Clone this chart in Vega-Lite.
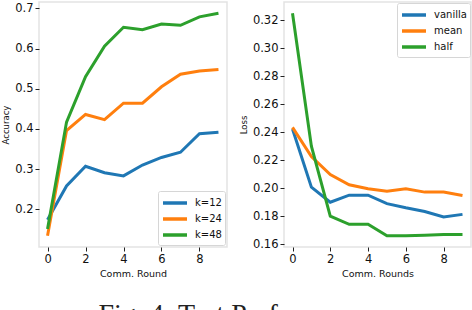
{
  "$schema": "https://vega.github.io/schema/vega-lite/v6.json",
  "autosize": {"type": "pad"},
  "padding": {"left": 0, "top": 1, "right": 0, "bottom": 0},
  "bounds": "flush",
  "spacing": 57,
  "background": "white",
  "title": {"text": "Fig. 4: Test Performance", "orient": "bottom", "anchor": "middle", "font": "Liberation Serif", "fontSize": 28, "fontWeight": "normal", "color": "#222222", "offset": 22, "baseline": "top"},
  "config": {
    "view": {"stroke": "#e3e3e3", "strokeWidth": 1.5},
    "axis": {"grid": false, "domain": false, "tickColor": "#222222", "tickSize": 4, "tickWidth": 1, "labelFont": "DejaVu Sans", "labelFontSize": 11.5, "labelColor": "#111111", "labelPadding": 2, "titleFont": "DejaVu Sans", "titleFontWeight": "normal", "titleColor": "#111111"},
    "legend": {"symbolType": "M-1,0H2.43", "symbolStrokeWidth": 3.5, "symbolSize": 196, "labelFont": "DejaVu Sans", "labelFontSize": 10, "labelColor": "#111111", "labelOffset": 16, "fillColor": "white", "strokeColor": "#d6d6d6", "cornerRadius": 2, "padding": 3, "rowPadding": 0, "title": null}
  },
  "data": {"values": [
    {"panel": "acc", "series": "k=12", "round": 0, "value": 0.174},
    {"panel": "acc", "series": "k=12", "round": 1, "value": 0.258},
    {"panel": "acc", "series": "k=12", "round": 2, "value": 0.307},
    {"panel": "acc", "series": "k=12", "round": 3, "value": 0.291},
    {"panel": "acc", "series": "k=12", "round": 4, "value": 0.283},
    {"panel": "acc", "series": "k=12", "round": 5, "value": 0.31},
    {"panel": "acc", "series": "k=12", "round": 6, "value": 0.329},
    {"panel": "acc", "series": "k=12", "round": 7, "value": 0.342},
    {"panel": "acc", "series": "k=12", "round": 8, "value": 0.388},
    {"panel": "acc", "series": "k=12", "round": 9, "value": 0.392},
    {"panel": "acc", "series": "k=24", "round": 0, "value": 0.134},
    {"panel": "acc", "series": "k=24", "round": 1, "value": 0.396},
    {"panel": "acc", "series": "k=24", "round": 2, "value": 0.436},
    {"panel": "acc", "series": "k=24", "round": 3, "value": 0.423},
    {"panel": "acc", "series": "k=24", "round": 4, "value": 0.464},
    {"panel": "acc", "series": "k=24", "round": 5, "value": 0.464},
    {"panel": "acc", "series": "k=24", "round": 6, "value": 0.505},
    {"panel": "acc", "series": "k=24", "round": 7, "value": 0.536},
    {"panel": "acc", "series": "k=24", "round": 8, "value": 0.544},
    {"panel": "acc", "series": "k=24", "round": 9, "value": 0.548},
    {"panel": "acc", "series": "k=48", "round": 0, "value": 0.151},
    {"panel": "acc", "series": "k=48", "round": 1, "value": 0.417},
    {"panel": "acc", "series": "k=48", "round": 2, "value": 0.53},
    {"panel": "acc", "series": "k=48", "round": 3, "value": 0.606},
    {"panel": "acc", "series": "k=48", "round": 4, "value": 0.653},
    {"panel": "acc", "series": "k=48", "round": 5, "value": 0.647},
    {"panel": "acc", "series": "k=48", "round": 6, "value": 0.661},
    {"panel": "acc", "series": "k=48", "round": 7, "value": 0.658},
    {"panel": "acc", "series": "k=48", "round": 8, "value": 0.679},
    {"panel": "acc", "series": "k=48", "round": 9, "value": 0.688},
    {"panel": "loss", "series": "vanilla", "round": 0, "value": 0.2423},
    {"panel": "loss", "series": "vanilla", "round": 1, "value": 0.2007},
    {"panel": "loss", "series": "vanilla", "round": 2, "value": 0.19},
    {"panel": "loss", "series": "vanilla", "round": 3, "value": 0.195},
    {"panel": "loss", "series": "vanilla", "round": 4, "value": 0.195},
    {"panel": "loss", "series": "vanilla", "round": 5, "value": 0.189},
    {"panel": "loss", "series": "vanilla", "round": 6, "value": 0.186},
    {"panel": "loss", "series": "vanilla", "round": 7, "value": 0.1834},
    {"panel": "loss", "series": "vanilla", "round": 8, "value": 0.1794},
    {"panel": "loss", "series": "vanilla", "round": 9, "value": 0.1813},
    {"panel": "loss", "series": "mean", "round": 0, "value": 0.2434},
    {"panel": "loss", "series": "mean", "round": 1, "value": 0.2226},
    {"panel": "loss", "series": "mean", "round": 2, "value": 0.2098},
    {"panel": "loss", "series": "mean", "round": 3, "value": 0.2024},
    {"panel": "loss", "series": "mean", "round": 4, "value": 0.1996},
    {"panel": "loss", "series": "mean", "round": 5, "value": 0.1979},
    {"panel": "loss", "series": "mean", "round": 6, "value": 0.1996},
    {"panel": "loss", "series": "mean", "round": 7, "value": 0.1972},
    {"panel": "loss", "series": "mean", "round": 8, "value": 0.1972},
    {"panel": "loss", "series": "mean", "round": 9, "value": 0.1948},
    {"panel": "loss", "series": "half", "round": 0, "value": 0.325},
    {"panel": "loss", "series": "half", "round": 1, "value": 0.23},
    {"panel": "loss", "series": "half", "round": 2, "value": 0.18},
    {"panel": "loss", "series": "half", "round": 3, "value": 0.1742},
    {"panel": "loss", "series": "half", "round": 4, "value": 0.1742},
    {"panel": "loss", "series": "half", "round": 5, "value": 0.166},
    {"panel": "loss", "series": "half", "round": 6, "value": 0.166},
    {"panel": "loss", "series": "half", "round": 7, "value": 0.1664},
    {"panel": "loss", "series": "half", "round": 8, "value": 0.167},
    {"panel": "loss", "series": "half", "round": 9, "value": 0.167}
  ]},
  "resolve": {"scale": {"color": "independent"}, "legend": {"color": "independent"}},
  "hconcat": [
    {
      "width": 188,
      "height": 245,
      "transform": [{"filter": "datum.panel === 'acc'"}],
      "mark": {"type": "line", "strokeWidth": 3},
      "encoding": {
        "x": {"field": "round", "type": "quantitative", "scale": {"domain": [-0.45, 9.45], "nice": false, "zero": false}, "axis": {"values": [0, 2, 4, 6, 8], "title": "Comm. Round", "titleFontSize": 9.5, "titlePadding": 4}},
        "y": {"field": "value", "type": "quantitative", "scale": {"domain": [0.106, 0.716], "nice": false, "zero": false}, "axis": {"values": [0.2, 0.3, 0.4, 0.5, 0.6, 0.7], "format": ".1f", "title": "Accuracy", "titleFontSize": 8.5, "titlePadding": 4}},
        "color": {"field": "series", "type": "nominal", "scale": {"domain": ["k=12", "k=24", "k=48"], "range": ["#1f77b4", "#ff7f0e", "#2ca02c"]}, "legend": {"orient": "none", "legendX": 119, "legendY": 189}}
      }
    },
    {
      "width": 187,
      "height": 245,
      "transform": [{"filter": "datum.panel === 'loss'"}],
      "mark": {"type": "line", "strokeWidth": 3},
      "encoding": {
        "x": {"field": "round", "type": "quantitative", "scale": {"domain": [-0.45, 9.45], "nice": false, "zero": false}, "axis": {"values": [0, 2, 4, 6, 8], "title": "Comm. Rounds", "titleFontSize": 9.5, "titlePadding": 4}},
        "y": {"field": "value", "type": "quantitative", "scale": {"domain": [0.158, 0.333], "nice": false, "zero": false}, "axis": {"values": [0.16, 0.18, 0.2, 0.22, 0.24, 0.26, 0.28, 0.3, 0.32], "format": ".2f", "title": "Loss", "titleFontSize": 8.5, "titlePadding": 4}},
        "color": {"field": "series", "type": "nominal", "scale": {"domain": ["vanilla", "mean", "half"], "range": ["#1f77b4", "#ff7f0e", "#2ca02c"]}, "legend": {"orient": "none", "legendX": 113, "legendY": 1}}
      }
    }
  ]
}
